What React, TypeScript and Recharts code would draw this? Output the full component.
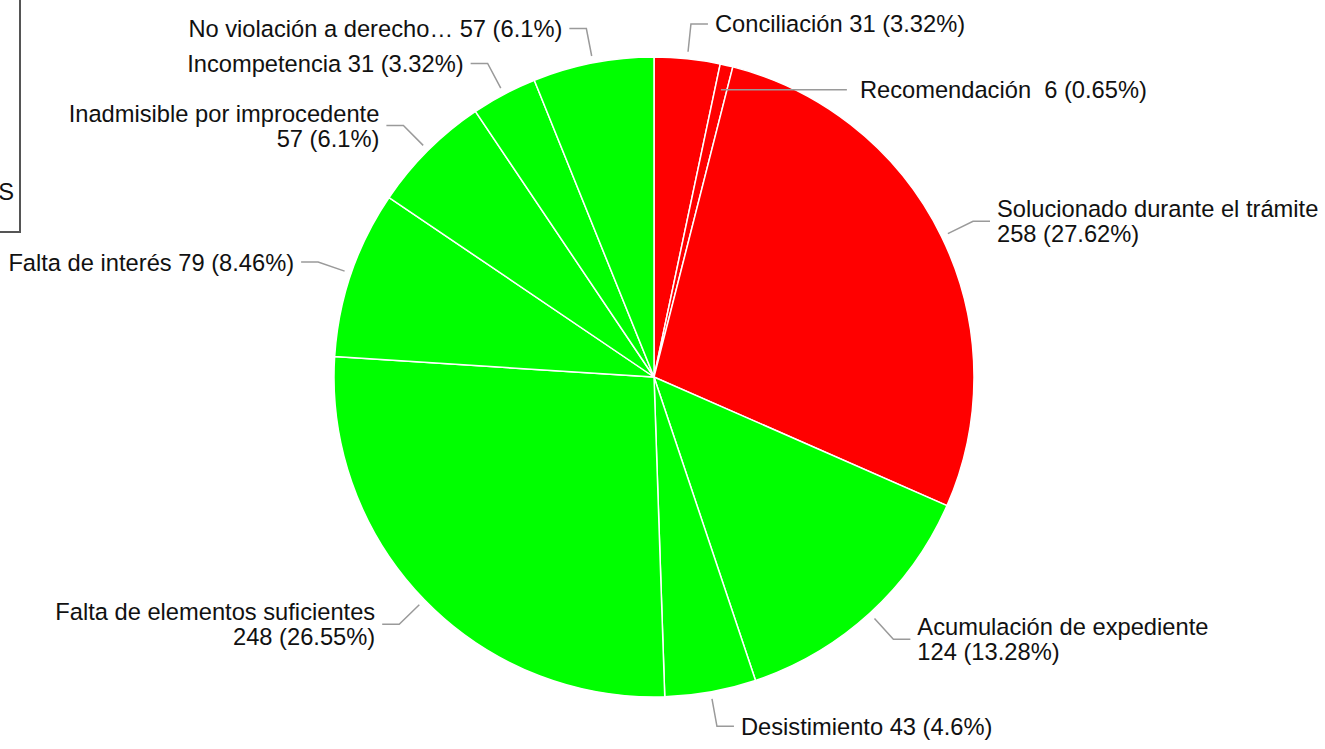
import { PieChart, Pie, Cell } from "recharts";

const categories = [
  "Conciliación",
  "Recomendación ",
  "Solucionado durante el trámite",
  "Acumulación de expediente",
  "Desistimiento",
  "Falta de elementos suficientes",
  "Falta de interés",
  "Inadmisible por improcedente",
  "Incompetencia",
  "No violación a derecho…",
];
const values = [31, 6, 258, 124, 43, 248, 79, 57, 31, 57];
const percentLabels = ["3.32%", "0.65%", "27.62%", "13.28%", "4.6%", "26.55%", "8.46%", "6.1%", "3.32%", "6.1%"];

const RED = "#ff0000";
const GREEN = "#00ff00";
const sliceColors = [RED, RED, RED, GREEN, GREEN, GREEN, GREEN, GREEN, GREEN, GREEN];

const FONT = '"Liberation Sans", Arial, sans-serif';
const FS = 23.7;
const LINE_GAP = 25;

// labels that wrap the value onto a second line
const wrapped = new Set([2, 3, 5, 7]);
// per-label leader tweaks (small slice label pushed down into the pie)
const tweaks: Record<number, { startR?: number; elbowR?: number; hLen?: number; gap?: number }> = {
  1: { startR: 295, elbowR: 295, hLen: 126, gap: 13 },
};

const data = categories.map((name, i) => ({ name, value: values[i] }));

function renderLabel(props: any) {
  const { cx, cy, midAngle, outerRadius, index } = props;
  const t = tweaks[index] ?? {};
  const rad = Math.PI / 180;
  const c = Math.cos(-midAngle * rad);
  const s = Math.sin(-midAngle * rad);
  const right = c >= 0;
  const r0 = t.startR ?? outerRadius + 7;
  const r1 = t.elbowR ?? outerRadius + 35;
  const sx = cx + r0 * c;
  const sy = cy + r0 * s;
  const ex = cx + r1 * c;
  const ey = cy + r1 * s;
  const h = t.hLen ?? 17;
  const hx = ex + (right ? h : -h);
  const tx = hx + (right ? 1 : -1) * (t.gap ?? 7);
  const anchor = right ? "start" : "end";
  const valueText = `${values[index]} (${percentLabels[index]})`;
  const base = FS * 0.36;
  return (
    <g key={`lbl-${index}`}>
      <polyline
        points={`${sx},${sy} ${ex},${ey} ${hx},${ey}`}
        fill="none"
        stroke="#9a9a9a"
        strokeWidth={1.5}
      />
      {wrapped.has(index) ? (
        <text x={tx} y={ey - LINE_GAP / 2 + base} textAnchor={anchor} fontSize={FS} fontFamily={FONT} fill="#111">
          <tspan x={tx}>{categories[index]}</tspan>
          <tspan x={tx} dy={LINE_GAP}>{valueText}</tspan>
        </text>
      ) : (
        <text
          x={tx}
          y={ey + base}
          textAnchor={anchor}
          fontSize={FS}
          fontFamily={FONT}
          fill="#111"
          style={{ whiteSpace: "pre" }}
        >
          {`${categories[index]} ${valueText}`}
        </text>
      )}
    </g>
  );
}

export default function App() {
  return (
    <div style={{ position: "absolute", left: 0, top: 0, width: 1325, height: 749, background: "#fff" }}>
      <svg width={1325} height={749} style={{ position: "absolute", left: 0, top: 0 }}>
        <rect x={-200} y={-10} width={220} height={242} fill="none" stroke="#555" strokeWidth={2} />
        <text x={14} y={200} textAnchor="end" fontSize={FS} fontFamily={FONT} fill="#111">
          S
        </text>
      </svg>
      <div style={{ position: "absolute", left: 0, top: 0 }}>
        <PieChart width={1325} height={749} margin={{ top: 0, right: 0, bottom: 0, left: 0 }}>
          <Pie
            data={data}
            dataKey="value"
            nameKey="name"
            cx={654}
            cy={377}
            outerRadius={320}
            startAngle={90}
            endAngle={-270}
            stroke="#ffffff"
            strokeWidth={1.5}
            label={renderLabel}
            labelLine={false}
            isAnimationActive={false}
          >
            {data.map((d, i) => (
              <Cell key={d.name} fill={sliceColors[i]} />
            ))}
          </Pie>
        </PieChart>
      </div>
    </div>
  );
}
